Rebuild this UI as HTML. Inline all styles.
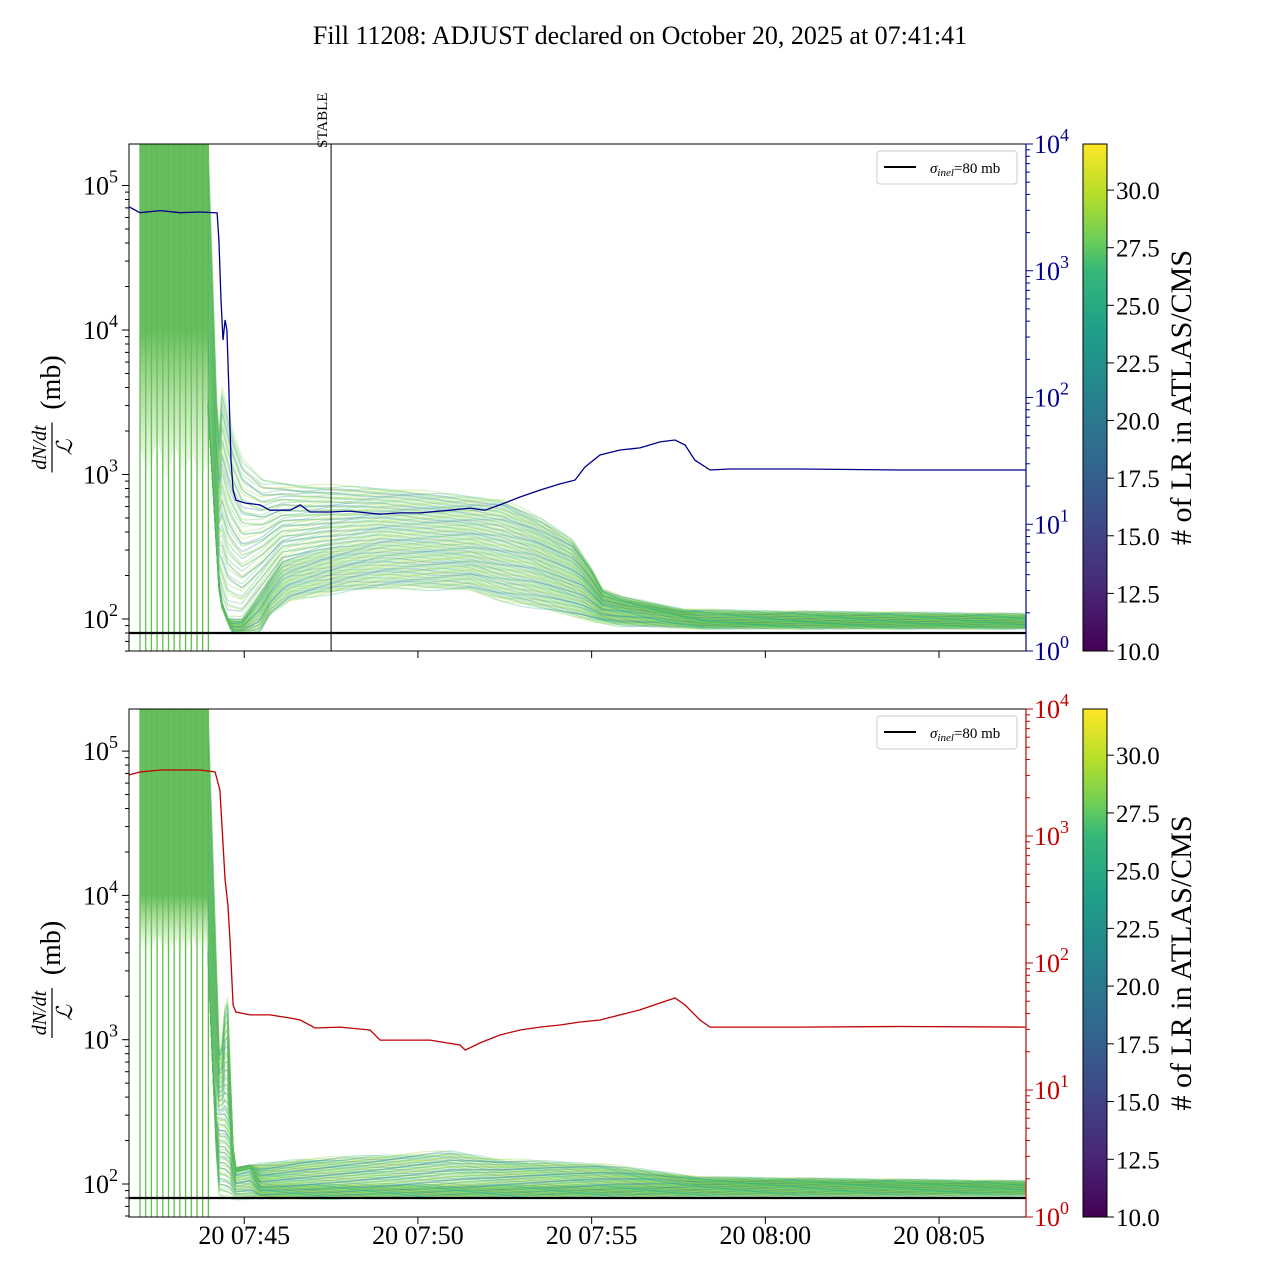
<!DOCTYPE html>
<html><head><meta charset="utf-8">
<style>
body{margin:0;background:#fff;}
svg{display:block;font-family:"Liberation Serif","DejaVu Serif",serif;}
</style></head>
<body>
<svg id="chart" width="1280" height="1280" viewBox="0 0 1280 1280" xmlns="http://www.w3.org/2000/svg">
<defs>
<linearGradient id="vir" x1="0" y1="1" x2="0" y2="0">
<stop offset="0" stop-color="#440154"/><stop offset="0.125" stop-color="#482878"/><stop offset="0.25" stop-color="#3e4989"/><stop offset="0.375" stop-color="#31688e"/><stop offset="0.5" stop-color="#26828e"/><stop offset="0.625" stop-color="#1f9e89"/><stop offset="0.75" stop-color="#35b779"/><stop offset="0.8125" stop-color="#6ece58"/><stop offset="0.9" stop-color="#b5de2b"/><stop offset="1" stop-color="#fde725"/>
</linearGradient>
<linearGradient id="pre0" gradientUnits="userSpaceOnUse" x1="0" y1="330" x2="0" y2="480">
<stop offset="0" stop-color="#5fbb55" stop-opacity="0.95"/><stop offset="1" stop-color="#8fd06a" stop-opacity="0.05"/>
</linearGradient>
<linearGradient id="pre1" gradientUnits="userSpaceOnUse" x1="0" y1="895" x2="0" y2="950">
<stop offset="0" stop-color="#5fbb55" stop-opacity="0.95"/><stop offset="1" stop-color="#8fd06a" stop-opacity="0.05"/>
</linearGradient>
<clipPath id="clip0"><rect x="129" y="144" width="897" height="507"/></clipPath>
<clipPath id="clip1"><rect x="129" y="709" width="897" height="508"/></clipPath>
</defs>
<text x="640" y="44" font-size="26" text-anchor="middle">Fill 11208: ADJUST declared on October 20, 2025 at 07:41:41</text>
</svg>
<script>
// ---- data (time in minutes after 07:40) ----
const blueT=[1.68,2.00,2.58,3.15,3.73,4.22,4.27,4.33,4.39,4.45,4.50,4.56,4.62,4.68,4.76,5.02,5.45,5.74,6.32,6.61,6.89,7.47,8.04,8.91,9.48,10.06,10.92,11.50,11.93,12.36,12.94,13.51,14.09,14.52,14.81,15.24,15.82,16.39,16.97,17.40,17.69,17.97,18.41,18.98,21.0,23.88,27.5];
const blueV=[3200,2870,2980,2870,2910,2860,1750,588,284,409,341,115,32,18.6,15.5,14.7,14.2,12.9,12.9,14.2,12.5,12.5,12.7,12.0,12.3,12.3,12.9,13.4,12.9,14.2,16.4,18.6,20.8,22.3,28.3,35.2,38.5,40,44.6,46.2,42.2,32.1,26.8,27.3,27.3,26.8,26.8];
const redT=[1.68,2.00,2.58,3.73,4.16,4.30,4.45,4.53,4.59,4.68,4.76,5.17,5.74,6.32,6.61,7.04,7.76,8.62,8.91,9.48,10.35,11.21,11.36,11.79,12.36,12.94,13.51,14.09,14.67,15.24,15.82,16.39,16.97,17.40,17.69,18.12,18.41,21.0,23.88,27.5];
const redV=[3020,3190,3310,3310,3190,2300,451,286,152,46.7,41.1,39,39,36.9,35.6,30.8,31.3,29.7,24.7,24.7,24.7,22.6,20.6,23.5,27.1,29.7,31.3,32.5,34.3,35.6,39,42.7,48.4,53,46.7,35.6,31.3,31.3,31.6,31.3];
// rate bundle envelopes (mb)
const preT=[2.0,2.25,2.5,2.75,3.0,3.25,3.5,3.75,3.96];
const preLowTop=[1500,1000,1800,900,1600,1000,1400,900,1200];
const preLowBot=[5000,3500,5500,3300,5000,3600,5200,3400,4500];
const upT0=[3.96,4.25,4.36,4.65,4.94,5.52,6.67,8.11,9.55,10.99,12.43,13.58,14.45,15.02,15.31,15.89,17.62,19.64,27.5];
const upV0=[200000,1500,4000,2030,1260,916,846,819,781,721,666,484,352,218,159,140,115,112,107];
const loT0=[3.96,4.30,4.65,5.45,5.74,6.32,7.18,8.04,9.48,11.50,12.36,13.80,14.95,15.82,18.12,27.5];
const loV0=[3000,135,81,81,107,135,147,159,164,159,135,115,98,91,87,87];
const midT0=[4.94,6.09,7.24,8.97,11.56,13.29,14.73,15.31,18.18,27.5];
const midV0=[98,256,300,352,325,256,172,125,98,95];
const upT1=[3.96,4.30,4.50,4.70,5.45,6.61,9.48,10.92,12.36,15.24,18.12,27.5];
const upV1=[200000,600,2600,125,136,147,159,167,147,136,110,103];
const loT1=[3.96,4.25,4.74,27.5];
const loV1=[4000,85,80,84];
const midT1=[4.45,5.45,27.5];
const midV1=[300,98,95];
const cbTicks=[10.0,12.5,15.0,17.5,20.0,22.5,25.0,27.5,30.0];
const xTickT=[5,10,15,20,25];
const xTickL=["20 07:45","20 07:50","20 07:55","20 08:00","20 08:05"];
const stableT=7.5;
const sigmaInel=80;

const svg=document.getElementById('chart');
const NS='http://www.w3.org/2000/svg';
function mk(tag,attrs,parent){const e=document.createElementNS(NS,tag);for(const k in attrs)e.setAttribute(k,attrs[k]);(parent||svg).appendChild(e);return e;}
const T0=1.683,X0=129,PXM=34.74;
function xs(t){return X0+(t-T0)*PXM;}
function interpLog(T,V,t){if(t<=T[0])return Math.log10(V[0]);if(t>=T[T.length-1])return Math.log10(V[V.length-1]);
 for(let i=1;i<T.length;i++){if(t<=T[i]){const f=(t-T[i-1])/(T[i]-T[i-1]);return Math.log10(V[i-1])*(1-f)+Math.log10(V[i])*f;}}}
const panels=[
 {y0:144,y1:651,l2:619,lDec:144.5,rBase:651,rDec:126.75,color:'#00008b',T:blueT,V:blueV,upT:upT0,upV:upV0,loT:loT0,loV:loV0,midT:midT0,midV:midV0,preLow:preLowTop,name:'top'},
 {y0:709,y1:1217,l2:1184,lDec:144.3,rBase:1217,rDec:127,color:'#c00000',T:redT,V:redV,upT:upT1,upV:upV1,loT:loT1,loV:loV1,midT:midT1,midV:midV1,preLow:preLowBot,name:'bottom'}
];
const greens=['#35b779','#6ece58','#b5de2b','#1f9e89','#5ec962','#90d743','#26828e','#3fbc73','#a0da39','#2a788e','#7ad151','#4ac16d'];
panels.forEach((p,pi)=>{
 const yl=v=>p.l2-(Math.log10(v)-2)*p.lDec;
 const yr=v=>p.rBase-Math.log10(v)*p.rDec;
 for(let t=2.0;t<=3.97;t+=0.164){
  const l=mk('line',{x1:xs(t),x2:xs(t),y1:p.y0,y2:p.y1,stroke:'#5cc04a','stroke-width':1.3});
  
  
 }
 const g=mk('g',{'clip-path':'url(#clip'+pi+')'});
 
 
 let poly=[xs(preT[0])+','+p.y0,xs(preT[preT.length-1])+','+p.y0];
 for(let i=preT.length-1;i>=0;i--)poly.push(xs(preT[i])+','+yl(p.preLow[i]));
 const pre=mk('polygon',{points:poly.join(' '),fill:'url(#pre'+pi+')'},g);
 
 
 const N=110;
 const tStart=p.upT[0],tEnd=27.5;
 for(let k=0;k<N;k++){
  const f=k/(N-1);
  let d='';
  for(let t=tStart;t<=tEnd+0.001;t+=0.08){
   const lo=interpLog(p.loT,p.loV,t),up=interpLog(p.upT,p.upV,t),md=interpLog(p.midT,p.midV,Math.max(t,p.midT[0]));
   const mdc=Math.min(Math.max(md,lo),up);
   let lv=f<0.5? lo+(mdc-lo)*(f*2): mdc+(up-mdc)*((f-0.5)*2);
   lv+=Math.sin(t*2.3+k*1.7)*0.012;
   const y=p.l2-(lv-2)*p.lDec;
   d+=(d?'L':'M')+xs(t).toFixed(1)+','+y.toFixed(1);
  }
  const pl=mk('path',{d:d,fill:'none',stroke:greens[(k*5)%greens.length],'stroke-width':1.3,'stroke-opacity':0.3},g);
  
  
 }
 const hl=mk('line',{x1:129,x2:1026,y1:yl(sigmaInel),y2:yl(sigmaInel),stroke:'#000','stroke-width':2.2},g);
 
 
 let d='';p.T.forEach((t,i)=>{d+=(i?'L':'M')+xs(t).toFixed(1)+','+yr(p.V[i]).toFixed(1);});
 const sl=mk('path',{d:d,fill:'none',stroke:p.color,'stroke-width':1.3},g);
 
 
 if(pi===0){
  const sx=xs(stableT);
  const st=mk('line',{x1:sx,x2:sx,y1:p.y0,y2:p.y1,stroke:'#000','stroke-width':1});
  
  
  const tx=mk('text',{x:0,y:0,'font-size':15,transform:`translate(${sx-4},148) rotate(-90)`});
  tx.textContent='STABLE';
  
  
 }
 const fr=mk('rect',{x:129,y:p.y0,width:897,height:p.y1-p.y0,fill:'none',stroke:'#000','stroke-width':1});
 
 
 for(let e=1;e<=5;e++){for(let m=1;m<10;m++){const v=m*Math.pow(10,e);const y=yl(v);if(y<p.y0-0.5||y>p.y1+0.5)continue;
   const tk=mk('line',{x1:129,x2:129-(m===1?7:4),y1:y,y2:y,stroke:'#000','stroke-width':1});
   
   
   if(m===1){const t=mk('text',{x:118,y:y+9,'font-size':26,'text-anchor':'end'});
    t.innerHTML='10<tspan dy="-12" font-size="18">'+e+'</tspan>';
    
    }
 }}
 for(let e=0;e<=4;e++){for(let m=1;m<10;m++){if(e===4&&m>1)break;const v=m*Math.pow(10,e);const y=yr(v);
   const tk=mk('line',{x1:1026,x2:1026+(m===1?7:4),y1:y,y2:y,stroke:p.color,'stroke-width':1});
   
   
   if(m===1){const t=mk('text',{x:1034,y:y+9,'font-size':26,fill:p.color});
    t.innerHTML='10<tspan dy="-12" font-size="18">'+e+'</tspan>';
    
    }
 }}
 const rs=mk('line',{x1:1026,x2:1026,y1:p.y0,y2:p.y1,stroke:p.color,'stroke-width':1.2});
 
 
 xTickT.forEach((t,i)=>{const x=xs(t);
  const tk=mk('line',{x1:x,x2:x,y1:p.y1,y2:p.y1+7,stroke:'#000','stroke-width':1});
  
  
  if(pi===1){const tl=mk('text',{x:x,y:1244,'font-size':26,'text-anchor':'middle'});tl.textContent=xTickL[i];
   
   }
 });
 const cy=(p.y0+p.y1)/2+20;
 const yg=mk('g',{transform:`translate(52,${cy}) rotate(-90)`});
 
 
 const n=mk('text',{x:-30,y:-6,'font-size':20,'font-style':'italic','text-anchor':'middle'},yg);n.textContent='dN/dt';
 mk('line',{x1:-55,x2:-5,y1:0,y2:0,stroke:'#000','stroke-width':1.2},yg);
 const dn=mk('text',{x:-30,y:20,'font-size':22,'font-style':'italic','text-anchor':'middle'},yg);dn.textContent='ℒ';
 const mb=mk('text',{x:35,y:8,'font-size':28,'text-anchor':'middle'},yg);mb.textContent='(mb)';
 const lg=mk('g',{});
 
 
 mk('rect',{x:877,y:p.y0+7,width:140,height:33,rx:3,fill:'#fff','fill-opacity':0.85,stroke:'#ccc'},lg);
 mk('line',{x1:884,x2:916,y1:p.y0+23,y2:p.y0+23,stroke:'#000','stroke-width':2},lg);
 const lt=mk('text',{x:930,y:p.y0+29,'font-size':15},lg);
 lt.innerHTML='<tspan font-style="italic">σ</tspan><tspan font-size="11" dy="3" font-style="italic">inel</tspan><tspan dy="-3">=80 mb</tspan>';
 const cb=mk('rect',{x:1083,y:p.y0,width:24,height:p.y1-p.y0,fill:'url(#vir)',stroke:'#000','stroke-width':1});
 
 
 const cbY=v=>p.y1-(v-10)/(32-10)*(p.y1-p.y0);
 cbTicks.forEach(v=>{const y=cbY(v);
  const tk=mk('line',{x1:1107,x2:1114,y1:y,y2:y,stroke:'#000'});
  
  
  const tl=mk('text',{x:1116,y:y+9,'font-size':25});tl.textContent=v.toFixed(1);
  
  
 });
 const ct=mk('text',{x:0,y:0,'font-size':30,'text-anchor':'middle',transform:`translate(1191,${(p.y0+p.y1)/2}) rotate(-90)`});
 ct.textContent='# of LR in ATLAS/CMS';
 
 
});
</script>
</body></html>
